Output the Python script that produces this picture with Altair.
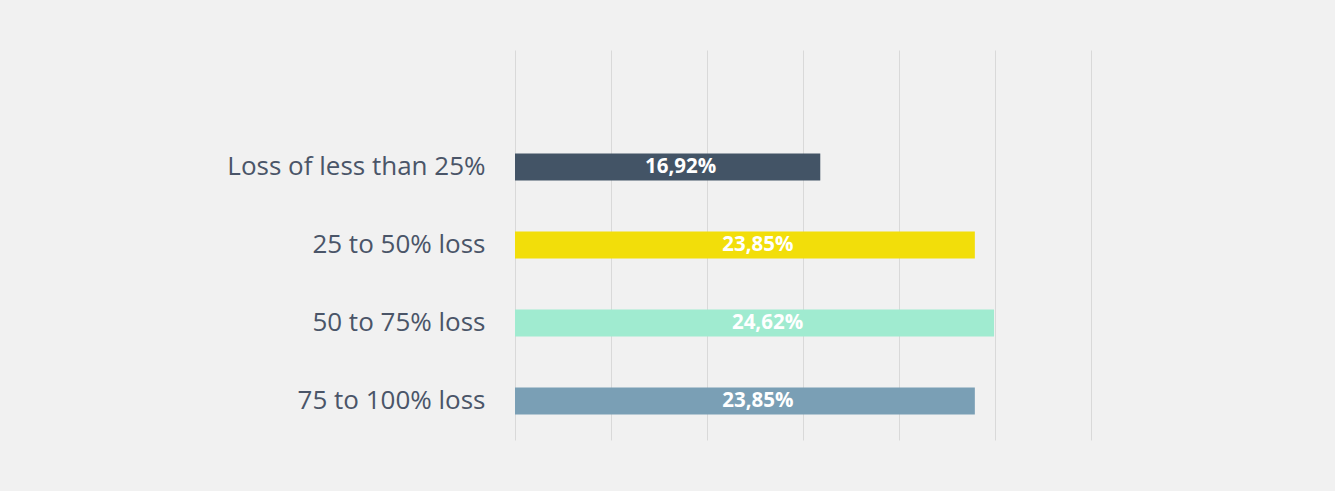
import altair as alt
import pandas as pd

categories = ["Loss of less than 25%", "25 to 50% loss", "50 to 75% loss", "75 to 100% loss"]
bar_values = [15.9, 23.95, 24.95, 23.95]          # bar lengths as drawn (% scale)
label_texts = ["16,92%", "23,85%", "24,62%", "23,85%"]
colors = ["#435466", "#f2de0a", "#a0ebd0", "#7a9fb5"]
x_ticks = [0, 5, 10, 15, 20, 25, 30]

df = pd.DataFrame({
    "category": categories,
    "value": bar_values,
    "label": label_texts,
    "color": colors,
})

y_domain = [" "] + categories
y_enc = alt.Y(
    "category:N",
    sort=y_domain,
    scale=alt.Scale(domain=y_domain, paddingInner=0.654, paddingOuter=0.327),
    axis=alt.Axis(
        title=None, ticks=False, domain=False, labelPadding=30,
        labelFontSize=26, labelColor="#4a5568", labelFont="Open Sans",
        labelLimit=400, grid=False,
    ),
)
x_enc = alt.X(
    "value:Q",
    scale=alt.Scale(domain=[0, 30], nice=False),
    axis=alt.Axis(
        title=None, values=x_ticks, labels=False, ticks=False, domain=False,
        grid=True, gridColor="#d9d9d9", gridWidth=1,
    ),
)

bars = alt.Chart(df).mark_bar().encode(
    x=x_enc,
    y=y_enc,
    color=alt.Color("color:N", scale=None),
)

labels = alt.Chart(df).transform_calculate(mid="datum.value / 2").mark_text(
    color="white", fontSize=20.5, fontWeight="bold", font="Open Sans",
    align="center", baseline="middle", dx=13,
).encode(
    x=alt.X("mid:Q"),
    y=alt.Y("category:N", sort=y_domain),
    text="label:N",
)

chart = alt.layer(bars, labels).properties(
    width=576, height=390,
    autosize=alt.AutoSizeParams(type="none"),
    padding={"left": 515, "top": 50, "right": 244, "bottom": 51},
    background="#f1f1f1",
).configure_view(stroke=None)

chart.save("out.html", embed_options={"renderer": "svg", "actions": False})
